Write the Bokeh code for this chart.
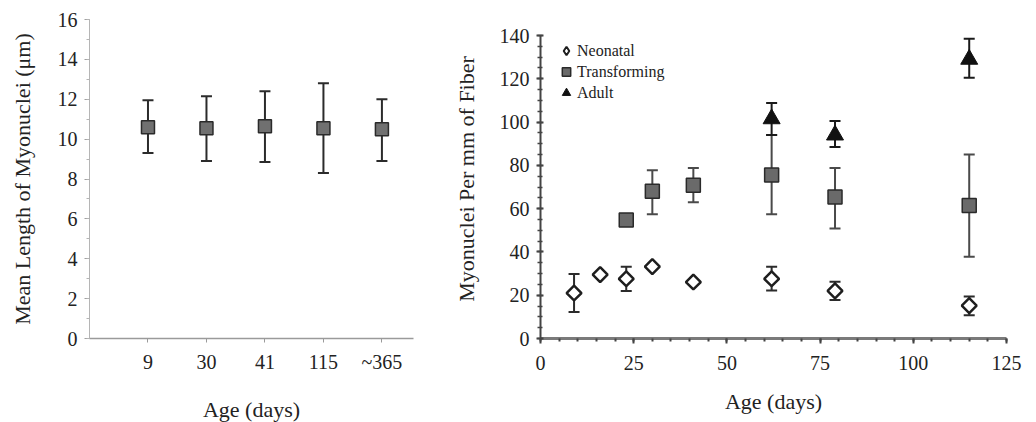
import math
from bokeh.plotting import figure
from bokeh.layouts import row
from bokeh.models import (ColumnDataSource, Whisker, TeeHead, FixedTicker,
                          SingleIntervalTicker, Range1d, Legend, LegendItem)
from bokeh.embed import file_html
from bokeh.resources import INLINE

FONT = "'Liberation Serif'"

# ---------------- data ----------------
left_cats = ["9", "30", "41", "115", "~365"]
left_mean = [10.6, 10.55, 10.65, 10.55, 10.5]
left_lo = [9.3, 8.9, 8.85, 8.3, 8.9]
left_hi = [11.95, 12.15, 12.4, 12.8, 12.0]

neo_x = [9, 16, 23, 30, 41, 62, 79, 115]
neo_y = [21.0, 29.5, 27.6, 33.2, 26.1, 27.6, 22.0, 15.2]
neo_lo = [12.3, None, 22.0, None, None, 22.2, 17.8, 10.8]
neo_hi = [29.8, None, 33.2, None, None, 33.2, 26.2, 19.4]

tr_x = [23, 30, 41, 62, 79, 115]
tr_y = [54.8, 68.0, 70.8, 75.5, 65.4, 61.5]
tr_lo = [None, 57.4, 63.0, 57.4, 50.8, 37.8]
tr_hi = [None, 77.8, 78.8, 94.0, 78.8, 85.0]

ad_x = [62, 79, 115]
ad_y = [101.5, 94.0, 129.0]
ad_lo = [94.0, 88.5, 120.5]
ad_hi = [108.8, 100.5, 138.5]


def style_axes(p):
    for ax in (p.xaxis[0], p.yaxis[0]):
        ax.major_label_text_font = FONT
        ax.major_label_text_font_size = "20px"
        ax.major_label_text_color = "#222222"
        ax.axis_label_text_font = FONT
        ax.axis_label_text_font_size = "22px"
        ax.axis_label_text_font_style = "normal"
        ax.axis_label_text_color = "#222222"


def whisker(p, xs, lo, hi, color, width=2, head=11):
    idx = [i for i in range(len(xs)) if lo[i] is not None]
    src = ColumnDataSource(dict(x=[xs[i] for i in idx],
                                lower=[lo[i] for i in idx],
                                upper=[hi[i] for i in idx]))
    w = Whisker(source=src, base="x", lower="lower", upper="upper",
                dimension="height", line_color=color, line_width=width,
                upper_head=TeeHead(size=head, line_color=color, line_width=width),
                lower_head=TeeHead(size=head, line_color=color, line_width=width),
                level="underlay")
    p.add_layout(w)


# ---------------- left panel ----------------
pos = list(range(1, len(left_cats) + 1))
p1 = figure(frame_width=324, frame_height=319, min_border_left=89,
            min_border_right=24, min_border_top=19, min_border_bottom=40,
            x_range=Range1d(0, 5.54), y_range=Range1d(0, 16),
            output_backend="svg", toolbar_location=None)
p1.outline_line_color = None
p1.grid.visible = False

whisker(p1, pos, left_lo, left_hi, "#2b2b2b", width=2, head=11)
p1.scatter(pos, left_mean, marker="square", size=13, fill_color="#707070",
           line_color="#2a2a2a", line_width=1.5)

p1.xaxis.ticker = FixedTicker(ticks=pos)
p1.xaxis.major_label_overrides = {i: c for i, c in zip(pos, left_cats)}
p1.xaxis.axis_label = "Age (days)"
p1.xaxis.axis_line_color = "#9a9a9a"
p1.xaxis.axis_line_width = 1.5
p1.xaxis.major_tick_line_color = "#9a9a9a"
p1.xaxis.major_tick_out = 4
p1.xaxis.major_tick_in = 0
p1.xaxis.minor_tick_line_color = None
p1.xaxis.major_label_standoff = 8
p1.xaxis.axis_label_standoff = 21

p1.yaxis.ticker = SingleIntervalTicker(interval=2, num_minor_ticks=2)
p1.yaxis.axis_label = "Mean Length of Myonuclei (\u03bcm)"
p1.yaxis.axis_line_color = "#b5b5b5"
p1.yaxis.major_tick_line_color = "#a0a0a0"
p1.yaxis.minor_tick_line_color = "#b5b5b5"
p1.yaxis.major_tick_out = 5
p1.yaxis.major_tick_in = 0
p1.yaxis.minor_tick_out = 3
p1.yaxis.minor_tick_in = 0
p1.yaxis.major_label_standoff = 7
p1.yaxis.axis_label_standoff = 20
style_axes(p1)

# ---------------- right panel ----------------
# frame is as tall as the left one; the axis itself stops at 140
p2 = figure(frame_width=466, frame_height=319, min_border_left=103,
            min_border_right=20, min_border_top=19, min_border_bottom=40,
            x_range=Range1d(0, 125), y_range=Range1d(0, 147.4),
            output_backend="svg", toolbar_location=None)
p2.outline_line_color = None
p2.grid.visible = False

whisker(p2, neo_x, neo_lo, neo_hi, "#2b2b2b", width=2, head=11)
whisker(p2, tr_x, tr_lo, tr_hi, "#4a4a4a", width=2, head=11)
whisker(p2, ad_x, ad_lo, ad_hi, "#1a1a1a", width=2, head=11)

# legend swatch for the open diamond (zero size in the plot itself)
r_neo_leg = p2.scatter(neo_x, neo_y, marker="diamond", size=0, fill_color="white",
                       line_color="#1e1e1e", line_width=2)
r_neo = p2.scatter(neo_x, neo_y, marker="square", angle=math.pi / 4, size=10.5,
                   fill_color="white", line_color="#1e1e1e", line_width=2.5)
r_tr = p2.scatter(tr_x, tr_y, marker="square", size=14, fill_color="#6a6a6a",
                  line_color="#2a2a2a", line_width=1.5)
r_ad = p2.scatter(ad_x, ad_y, marker="triangle", size=17, fill_color="#111111",
                  line_color="#111111", line_width=1)

p2.xaxis.ticker = SingleIntervalTicker(interval=25, num_minor_ticks=5)
p2.xaxis.bounds = (0, 125)
p2.xaxis.axis_label = "Age (days)"
p2.xaxis.axis_line_color = "#7a7a7a"
p2.xaxis.axis_line_width = 3
p2.xaxis.major_tick_line_color = "#444444"
p2.xaxis.major_tick_line_width = 2
p2.xaxis.minor_tick_line_color = "#444444"
p2.xaxis.minor_tick_line_width = 2
p2.xaxis.major_tick_out = 5
p2.xaxis.major_tick_in = 0
p2.xaxis.minor_tick_out = 3
p2.xaxis.minor_tick_in = 0
p2.xaxis.major_label_standoff = 12
p2.xaxis.axis_label_standoff = 16

p2.yaxis.ticker = SingleIntervalTicker(interval=20, num_minor_ticks=4)
p2.yaxis.bounds = (0, 140)
p2.yaxis.axis_label = "Myonuclei Per mm of Fiber"
p2.yaxis.axis_line_color = "#444444"
p2.yaxis.axis_line_width = 2
p2.yaxis.major_tick_line_color = "#444444"
p2.yaxis.major_tick_line_width = 2
p2.yaxis.minor_tick_line_color = "#444444"
p2.yaxis.minor_tick_line_width = 1.5
p2.yaxis.major_tick_out = 4
p2.yaxis.major_tick_in = 3
p2.yaxis.minor_tick_out = 3
p2.yaxis.minor_tick_in = 2
p2.yaxis.major_label_standoff = 7
p2.yaxis.axis_label_standoff = 18
style_axes(p2)

legend = Legend(items=[LegendItem(label="Neonatal", renderers=[r_neo_leg]),
                       LegendItem(label="Transforming", renderers=[r_tr]),
                       LegendItem(label="Adult", renderers=[r_ad])],
                location=(15, 235), margin=0, padding=0,
                glyph_width=22, glyph_height=21, label_height=21,
                spacing=0, label_standoff=0,
                border_line_color=None, background_fill_alpha=0,
                label_text_font=FONT, label_text_font_size="16px",
                label_text_color="#222222")
p2.add_layout(legend)

layout = row(p1, p2)
open("out.html", "w").write(file_html(layout, INLINE))
